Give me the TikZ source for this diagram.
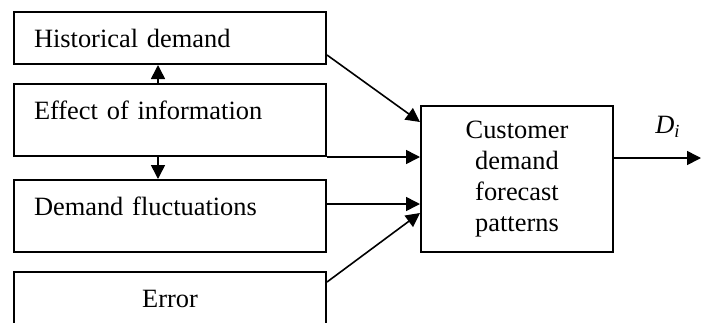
\documentclass[tikz,border=0pt]{standalone}
\usepackage{fontspec}
\setmainfont{Liberation Serif}
\usetikzlibrary{arrows.meta,positioning}

\begin{document}
\begin{tikzpicture}[x=0.5pt,y=-0.5pt,font=\fontsize{13.2pt}{15.4pt}\selectfont]

\tikzset{
    factor/.style={draw, line width=1pt, anchor=north west, inner xsep=10pt, inner ysep=0pt,
        text width=136pt, align=left, text height=17.5pt, text depth=18.5pt},
    link/.style={-{Triangle[length=7pt,width=7pt]}, line width=0.8pt}
}
\useasboundingbox (0,0) rectangle (701,322);
\clip (0,0) rectangle (701,322);

\node[factor, text depth=8.5pt] (hist) at (13,11) {Historical demand};
\node[factor] (eff) at (13,83) {Effect of information};
\node[factor] (fluc) at (13,179) {Demand fluctuations};
\node[factor, align=center] (err) at (13,271) {Error};
\node[draw, line width=1pt, minimum width=96pt, minimum height=73pt, align=center] (cust) at (517,179)
    {Customer\\demand\\forecast\\patterns};
\coordinate (out) at (701,158);
\node (di) at (668,127) {\textit{D}\textsubscript{\textit{i}}};

% links between the factors
\draw[link] ([xshift=-6pt]eff.north) -- ([xshift=-6pt]hist.south);
\draw[link] ([xshift=-6pt]eff.south) -- ([xshift=-6pt]fluc.north);

% inputs of the forecast
\draw[link] ([yshift=5pt]hist.south east) -- ([yshift=-8.5pt]cust.north west);
\draw[link] (eff.south east) -- (eff.south east -| cust.west);
\draw[link] ([yshift=6pt]fluc.east) -- ([yshift=6pt]fluc.east -| cust.west);
\draw[link] ([yshift=-5.5pt]err.north east) -- ([yshift=20pt]cust.south west);
\draw[link] (cust.east |- out) -- (out);
\end{tikzpicture}
\end{document}
